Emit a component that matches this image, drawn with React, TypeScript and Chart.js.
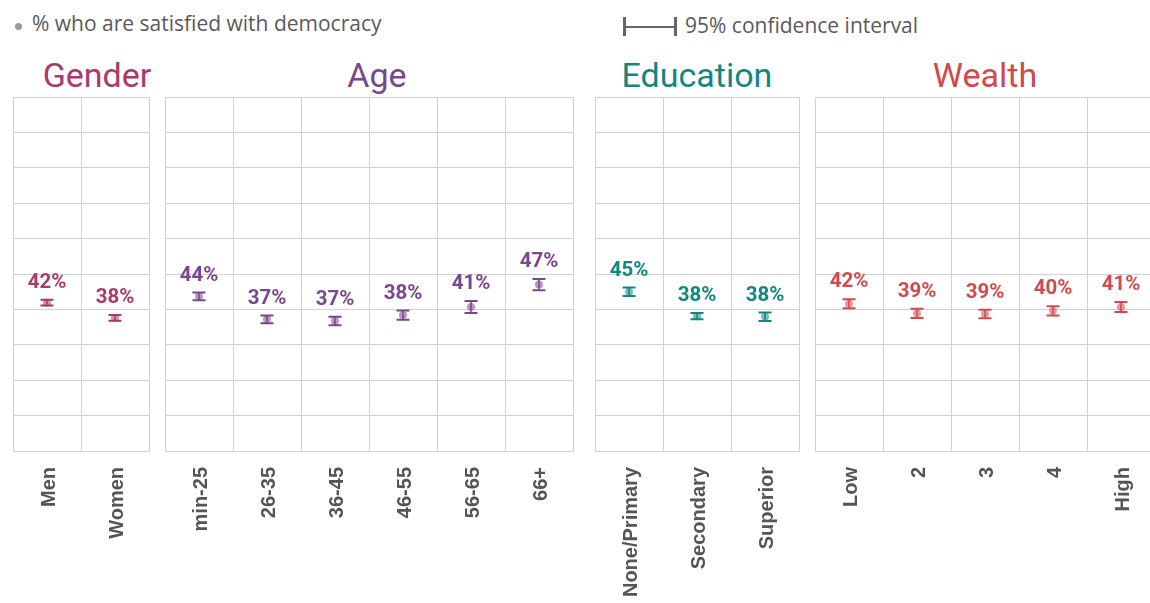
import React, { useEffect, useRef } from "react";
import { Chart, registerables } from "chart.js";

Chart.register(...registerables);

// ---- data ----
const genderCategories = ["Men", "Women"];
const genderValues = [41.9, 37.6];
const genderCI = [0.8, 0.8];

const ageCategories = ["min-25", "26-35", "36-45", "46-55", "56-65", "66+"];
const ageValues = [43.7, 37.2, 36.7, 38.4, 40.7, 47.0];
const ageCI = [1.1, 1.1, 1.2, 1.3, 1.7, 1.6];

const educationCategories = ["None/Primary", "Secondary", "Superior"];
const educationValues = [45.0, 38.1, 37.9];
const educationCI = [1.2, 0.9, 1.2];

const wealthCategories = ["Low", "2", "3", "4", "High"];
const wealthValues = [41.6, 38.9, 38.7, 39.6, 40.7];
const wealthCI = [1.3, 1.3, 1.2, 1.3, 1.4];

const yTickValues = [0, 10, 20, 30, 40, 50, 60, 70, 80, 90, 100];

type Panel = {
  title: string;
  color: string;
  fill: string;
  categories: string[];
  values: number[];
  ci: number[];
  left: number;
  titleCenter: number;
};

const COL_W = 68;
const PLOT_TOP = 97;
const PLOT_H = 354;
const AXIS_H = 152;
const GRID = "#d2d2d2";

const panels: Panel[] = [
  { title: "Gender", color: "#a93a6b", fill: "rgba(169,58,107,0.55)", categories: genderCategories, values: genderValues, ci: genderCI, left: 13, titleCenter: 97 },
  { title: "Age", color: "#7a468e", fill: "rgba(122,70,142,0.55)", categories: ageCategories, values: ageValues, ci: ageCI, left: 165, titleCenter: 377 },
  { title: "Education", color: "#12877f", fill: "rgba(18,135,127,0.55)", categories: educationCategories, values: educationValues, ci: educationCI, left: 595, titleCenter: 697 },
  { title: "Wealth", color: "#cf4a4a", fill: "rgba(207,74,74,0.55)", categories: wealthCategories, values: wealthValues, ci: wealthCI, left: 815, titleCenter: 985 },
];

const errorBarPlugin = {
  id: "errorBars",
  beforeDatasetsDraw(chart: any) {
    const ctx = chart.ctx;
    const ds = chart.data.datasets[0];
    const ci: number[] = ds.ci;
    const x = chart.scales.x;
    const y = chart.scales.y;
    ctx.save();
    ctx.strokeStyle = ds.barColor;
    ds.data.forEach((v: number, i: number) => {
      const px = x.getPixelForValue(i);
      const top = y.getPixelForValue(v + ci[i]);
      const bot = y.getPixelForValue(v - ci[i]);
      ctx.lineWidth = 1.5;
      ctx.beginPath();
      ctx.moveTo(px, top);
      ctx.lineTo(px, bot);
      ctx.stroke();
      ctx.lineWidth = 2;
      ctx.beginPath();
      ctx.moveTo(px - 6.5, top);
      ctx.lineTo(px + 6.5, top);
      ctx.moveTo(px - 6.5, bot);
      ctx.lineTo(px + 6.5, bot);
      ctx.stroke();
    });
    ctx.restore();
  },
  afterDatasetsDraw(chart: any) {
    const ctx = chart.ctx;
    const ds = chart.data.datasets[0];
    const ci: number[] = ds.ci;
    const x = chart.scales.x;
    const y = chart.scales.y;
    ctx.save();
    ctx.fillStyle = ds.barColor;
    ctx.font = "bold 20.5px Roboto";
    ctx.textAlign = "center";
    ctx.textBaseline = "middle";
    ds.data.forEach((v: number, i: number) => {
      const px = x.getPixelForValue(i);
      const top = y.getPixelForValue(v + ci[i]);
      ctx.fillText(Math.round(v) + "%", px, top - 17);
    });
    ctx.restore();
  },
};

function PanelChart({ p }: { p: Panel }) {
  const ref = useRef<HTMLCanvasElement | null>(null);
  useEffect(() => {
    if (!ref.current) return;
    const chart = new Chart(ref.current, {
      type: "line",
      data: {
        labels: p.categories,
        datasets: [
          {
            data: p.values,
            ci: p.ci,
            barColor: p.color,
            showLine: false,
            pointRadius: 4,
            pointBackgroundColor: p.fill,
            pointBorderWidth: 0,
            clip: false,
          } as any,
        ],
      },
      options: {
        responsive: false,
        maintainAspectRatio: false,
        animation: false,
        layout: { autoPadding: false, padding: { left: 1, right: 1, top: 1, bottom: 0 } },
        plugins: { legend: { display: false }, tooltip: { enabled: false } },
        scales: {
          x: {
            type: "category",
            offset: true,
            grid: { offset: true, color: GRID, drawTicks: false },
            border: { color: GRID },
            ticks: {
              minRotation: 90,
              maxRotation: 90,
              autoSkip: false,
              padding: 16,
              labelOffset: 2,
              color: "#555",
              font: { family: "'Liberation Sans', Arial, sans-serif", size: 20, weight: "bold" },
            },
            afterFit: (s: any) => {
              s.height = AXIS_H;
              s.paddingLeft = 0;
              s.paddingRight = 0;
              s.paddingTop = 0;
              s.paddingBottom = 0;
            },
          },
          y: {
            min: 0,
            max: 100,
            afterBuildTicks: (s: any) => {
              s.ticks = yTickValues.map((v) => ({ value: v }));
            },
            ticks: { display: false },
            grid: { color: GRID, drawTicks: false },
            border: { color: GRID },
            afterFit: (s: any) => {
              s.width = 0;
              s.paddingTop = 0;
              s.paddingBottom = 0;
              s.paddingLeft = 0;
              s.paddingRight = 0;
            },
          },
        },
      } as any,
      plugins: [errorBarPlugin],
    });
    return () => chart.destroy();
  }, [p]);
  const w = p.categories.length * COL_W + 2;
  const h = 1 + PLOT_H + AXIS_H;
  return (
    <canvas
      ref={ref}
      width={w}
      height={h}
      style={{ position: "absolute", left: p.left - 1, top: PLOT_TOP - 1, width: w, height: h }}
    />
  );
}

export default function App() {
  return (
    <div
      style={{
        position: "fixed",
        left: 0,
        top: 0,
        width: 1150,
        height: 603,
        overflow: "hidden",
        background: "#fff",
      }}
    >
      {/* legend */}
      <div style={{ position: "absolute", left: 14.5, top: 22.5, width: 7, height: 7, borderRadius: "50%", background: "#9a9a9a" }} />
      <div
        style={{
          position: "absolute",
          left: 32,
          top: 13,
          fontFamily: "'Open Sans', sans-serif",
          fontSize: 21,
          lineHeight: "21px",
          color: "#5a5a5a",
          whiteSpace: "nowrap",
        }}
      >
        % who are satisfied with democracy
      </div>
      <div style={{ position: "absolute", left: 623, top: 17, width: 2.5, height: 19, background: "#666" }} />
      <div style={{ position: "absolute", left: 624, top: 26, width: 51, height: 1.5, background: "#666" }} />
      <div style={{ position: "absolute", left: 674, top: 17, width: 2.5, height: 19, background: "#666" }} />
      <div
        style={{
          position: "absolute",
          left: 685,
          top: 15,
          fontFamily: "'Open Sans', sans-serif",
          fontSize: 21,
          lineHeight: "21px",
          color: "#5a5a5a",
          whiteSpace: "nowrap",
        }}
      >
        95% confidence interval
      </div>
      {panels.map((p) => (
        <div
          key={p.title}
          style={{
            position: "absolute",
            left: p.titleCenter - 150,
            width: 300,
            top: 58,
            textAlign: "center",
            fontFamily: "Roboto, sans-serif",
            fontSize: 34,
            lineHeight: "34px",
            color: p.color,
            whiteSpace: "nowrap",
          }}
        >
          {p.title}
        </div>
      ))}
      {panels.map((p) => (
        <PanelChart key={p.title} p={p} />
      ))}
    </div>
  );
}
